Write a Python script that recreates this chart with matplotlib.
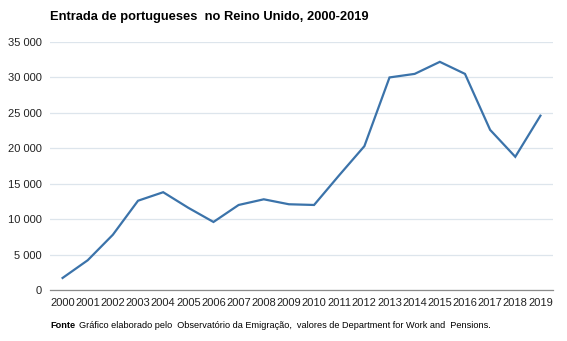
import matplotlib
matplotlib.use("Agg")
import matplotlib.pyplot as plt
from matplotlib.ticker import FuncFormatter

plt.rcParams['font.family'] = ['Liberation Sans', 'DejaVu Sans']

years = [str(y) for y in range(2000, 2020)]
values = [1700, 4200, 7800, 12600, 13800, 11600, 9600, 12000, 12800, 12100,
          12000, 16200, 20300, 30000, 30500, 32200, 30500, 22600, 18800, 24600]
yticks = [0, 5000, 10000, 15000, 20000, 25000, 30000, 35000]

fig = plt.figure(figsize=(5.67, 3.41), dpi=100)
ax = fig.add_axes([50/567, 1-290/341, 503/567, 248/341])

x = list(range(len(years)))
ax.plot(x, values, color='#3b73aa', linewidth=1.6, solid_joinstyle='miter')
ax.set_xlim(-0.5, len(years) - 0.5)
ax.set_ylim(0, 35000)
ax.set_yticks(yticks)
ax.yaxis.set_major_formatter(FuncFormatter(lambda v, p: f"{int(v):,}".replace(",", " ")))
ax.set_xticks(x)
ax.set_xticklabels(years)
ax.grid(axis='y', color='#dde5ec', linewidth=0.9)
ax.set_axisbelow(True)
for s in ['top', 'right', 'left']:
    ax.spines[s].set_visible(False)
ax.spines['bottom'].set_color('#8c8c8c')
ax.spines['bottom'].set_linewidth(0.9)
ax.tick_params(axis='both', length=0, labelsize=8, colors='#222222')
ax.tick_params(axis='x', pad=6)
ax.tick_params(axis='y', pad=6)

fig.text(50/567, 1-17/341, "Entrada de portugueses  no Reino Unido, 2000-2019",
         fontsize=9.3, fontweight='bold', va='center', ha='left')
fig.text(50/567, 1-325/341, "Fonte", fontsize=6.6, fontweight='bold', va='center', ha='left')
fig.text(79/567, 1-325/341,
         "Gráfico elaborado pelo  Observatório da Emigração,  valores de Department for Work and  Pensions.",
         fontsize=6.6, va='center', ha='left')

fig.savefig("out.png", dpi=100, facecolor='white')
